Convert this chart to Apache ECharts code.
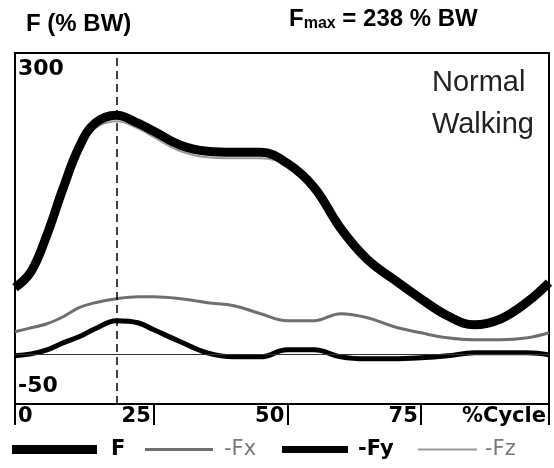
<!DOCTYPE html>
<html>
<head>
<meta charset="utf-8">
<script src="https://cdn.jsdelivr.net/npm/echarts@6/dist/echarts.min.js"></script>
<style>
  html, body { margin: 0; padding: 0; background: #fff; }
  #chart { width: 554px; height: 468px; }
</style>
</head>
<body>
<div id="chart"></div>
<script>
// % of gait cycle
const pct = [-1, 2, 5, 8, 11, 14, 18, 22, 25, 30, 35, 40, 45, 50, 55, 60, 65, 70, 75, 80, 85, 90, 95, 99];
// forces in % body weight
const fTotal = [66, 82, 119, 165, 206, 230, 238, 230, 222, 208, 202, 201, 201, 190, 166, 125, 94, 74, 55, 38, 29, 35, 52, 71];
const fx = [22, 26, 30, 37, 46, 51, 55, 57, 57, 55, 51, 48, 40, 33, 33, 40, 36, 27, 21, 16, 14, 14, 16, 21];
const fy = [-2, 0, 4, 11, 17, 25, 33, 31, 24, 12, 1, -3, -3, 4, 4, -3, -5, -5, -4, -2, 1, 1, 1, -1];
const fz = [66, 82, 118, 163, 203, 225, 232, 225, 216, 202, 196, 195, 195, 188, 165, 125, 94, 74, 55, 38, 29, 35, 52, 71];

const xTicks = [-1, 25, 50, 75, 99];
const xTickLabels = ['0', '25', '50', '75', '%Cycle'];
const yTicks = [-50, 300];
const peakX = 18;

const pairs = arr => pct.map((x, i) => [x, arr[i]]);

const chart = echarts.init(document.getElementById('chart'));
const labelFont = { fontFamily: 'DejaVu Sans', fontWeight: 'bold', fontSize: 21, color: '#000' };

chart.setOption({
  animation: false,
  title: {
    text: 'F (% BW)',
    left: 21, top: 7,
    textStyle: { fontFamily: 'Liberation Sans', fontWeight: 'bold', fontSize: 24, color: '#000' }
  },
  graphic: [
    {
      type: 'text', left: 289, top: 7,
      style: {
        text: '{a|F}{b|max}{a| = 238 % BW}',
        rich: {
          a: { fontFamily: 'Liberation Sans', fontWeight: 'bold', fontSize: 24, fill: '#000' },
          b: { fontFamily: 'Liberation Sans', fontWeight: 'bold', fontSize: 16, fill: '#000', padding: [10, 0, 0, 0] }
        }
      }
    },
    {
      type: 'text', right: 20, top: 62,
      style: {
        text: 'Normal\nWalking',
        font: '29px "Liberation Sans"',
        fill: '#222',
        align: 'right',
        lineHeight: 42
      }
    }
  ],
  legend: [
    { data: ['F'], left: 7, top: 434, icon: 'rect', itemWidth: 85, itemHeight: 9, selectedMode: false,
      textStyle: Object.assign({}, labelFont, { padding: [0, 0, 0, 9] }) },
    { data: ['-Fx'], left: 140, top: 434, icon: 'rect', itemWidth: 68, itemHeight: 3, selectedMode: false,
      textStyle: Object.assign({}, labelFont, { fontWeight: 'normal', color: '#777', padding: [0, 0, 0, 6] }) },
    { data: ['-Fy'], left: 277, top: 434, icon: 'rect', itemWidth: 66, itemHeight: 7, selectedMode: false,
      textStyle: Object.assign({}, labelFont, { padding: [0, 0, 0, 5] }) },
    { data: ['-Fz'], left: 413, top: 434, icon: 'rect', itemWidth: 59, itemHeight: 2, selectedMode: false,
      textStyle: Object.assign({}, labelFont, { fontWeight: 'normal', color: '#777', padding: [0, 0, 0, 3] }) }
  ],
  grid: {
    left: 15, right: 5, top: 53, bottom: 64,
    show: true, borderColor: '#000', borderWidth: 2
  },
  xAxis: {
    type: 'value', min: -1, max: 99,
    axisLine: { show: true, onZero: false, lineStyle: { color: '#000', width: 2 } },
    axisTick: { show: true, customValues: xTicks, length: 21, inside: false, lineStyle: { color: '#000', width: 2 } },
    axisLabel: Object.assign({}, labelFont, {
      customValues: xTicks,
      formatter: v => xTickLabels[xTicks.indexOf(v)],
      align: 'right', alignMinLabel: 'left', alignMaxLabel: 'right',
      margin: 2, padding: [0, 3, 0, 3]
    }),
    splitLine: { show: false }
  },
  yAxis: {
    type: 'value', min: -50, max: 300,
    axisLine: { show: false },
    axisTick: { show: false },
    axisLabel: Object.assign({}, labelFont, {
      customValues: yTicks,
      fontSize: 22,
      inside: true, margin: 3,
      verticalAlignMinLabel: 'bottom', verticalAlignMaxLabel: 'top',
      padding: [5, 0, 7, 0]
    }),
    splitLine: { show: false }
  },
  series: [
    {
      name: '-Fz', type: 'line', data: pairs(fz), smooth: 0.4, showSymbol: false, z: 2,
      lineStyle: { color: '#9a9a9a', width: 2 }, itemStyle: { color: '#9a9a9a' }
    },
    {
      name: 'F', type: 'line', data: pairs(fTotal), smooth: 0.4, showSymbol: false, z: 3,
      lineStyle: { color: '#000', width: 9 }, itemStyle: { color: '#000' },
      markLine: {
        silent: true, symbol: 'none', label: { show: false },
        data: [
          { xAxis: peakX, lineStyle: { type: [8, 5], color: '#000', width: 1.5 } },
          { yAxis: 0, lineStyle: { type: 'solid', color: '#333', width: 1 } }
        ]
      }
    },
    {
      name: '-Fx', type: 'line', data: pairs(fx), smooth: 0.4, showSymbol: false, z: 3,
      lineStyle: { color: '#6e6e6e', width: 3 }, itemStyle: { color: '#6e6e6e' }
    },
    {
      name: '-Fy', type: 'line', data: pairs(fy), smooth: 0.4, showSymbol: false, z: 3,
      lineStyle: { color: '#000', width: 5 }, itemStyle: { color: '#000' }
    }
  ]
});
</script>
</body>
</html>
